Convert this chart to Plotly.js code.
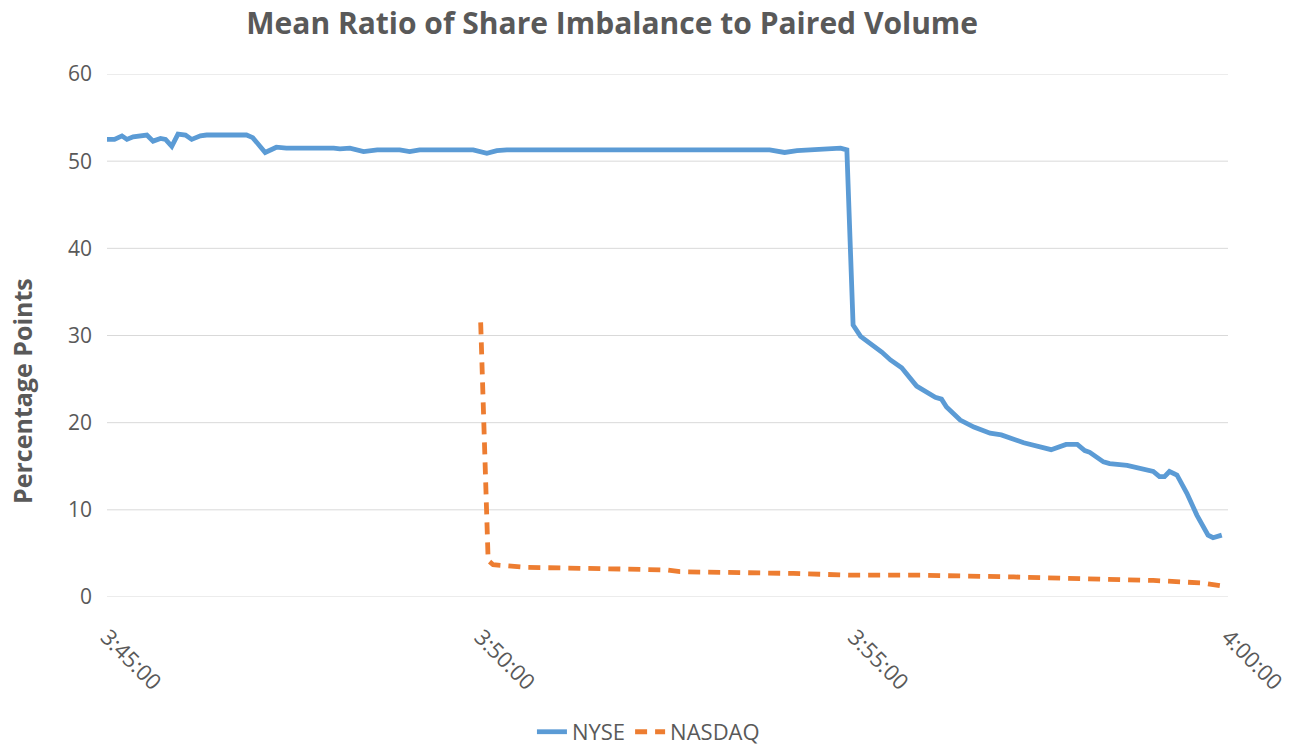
<!DOCTYPE html>
<html>
<head>
<meta charset="utf-8">
<script src="https://cdn.plot.ly/plotly-3.0.1.min.js"></script>
<style>html,body{margin:0;padding:0;background:#fff;}#chart{width:1308px;height:751px;}</style>
</head>
<body>
<div id="chart"></div>
<script>
const nyseTimes = ["15:45:00","15:45:06","15:45:12","15:45:16","15:45:21","15:45:29","15:45:32","15:45:37","15:45:43","15:45:47","15:45:52","15:45:57","15:46:03","15:46:08","15:46:15","15:46:20","15:46:52","15:46:57","15:47:07","15:47:16","15:47:24","15:48:02","15:48:07","15:48:15","15:48:26","15:48:37","15:48:55","15:49:03","15:49:11","15:49:54","15:50:05","15:50:13","15:50:21","15:53:52","15:54:04","15:54:14","15:54:27","15:54:49","15:54:54","15:54:59","15:55:05","15:55:13","15:55:22","15:55:29","15:55:38","15:55:50","15:55:57","15:56:05","15:56:10","15:56:14","15:56:25","15:56:36","15:56:49","15:56:58","15:57:16","15:57:26","15:57:38","15:57:50","15:57:59","15:58:05","15:58:09","15:58:20","15:58:25","15:58:39","15:58:49","15:59:00","15:59:05","15:59:09","15:59:13","15:59:19","15:59:27","15:59:35","15:59:44","15:59:48","15:59:55"];
const nyseValues = [52.5,52.5,52.9,52.5,52.8,53.0,53.0,52.3,52.6,52.5,51.7,53.1,53.0,52.5,52.9,53.0,53.0,52.7,51.0,51.6,51.5,51.5,51.4,51.5,51.1,51.3,51.3,51.1,51.3,51.3,50.9,51.2,51.3,51.3,51.0,51.2,51.3,51.5,51.3,31.2,29.9,29.1,28.1,27.2,26.3,24.2,23.6,22.9,22.7,21.8,20.3,19.5,18.8,18.6,17.7,17.4,16.9,17.5,17.5,16.8,16.6,15.5,15.3,15.1,14.8,14.4,13.8,13.8,14.4,14.0,11.9,9.4,7.1,6.8,7.1];
const nasdaqTimes = ["15:50:00","15:50:06","15:50:10","15:50:37","15:51:57","15:52:29","15:52:40","15:53:44","15:54:11","15:54:59","15:55:53","15:57:08","15:59:00","15:59:40","15:59:54"];
const nasdaqValues = [31.5,4.2,3.7,3.4,3.2,3.1,2.9,2.8,2.7,2.5,2.5,2.3,1.9,1.6,1.3];
const day = "2000-01-01 ";
const xRange = ["15:45:00","16:00:00"];
const tickTimes = ["15:45:00","15:50:00","15:55:00","16:00:00"];
const tickLabels = ["3:45:00","3:50:00","3:55:00","4:00:00"];
const yTicks = [0,10,20,30,40,50,60];

const gray = "#595959";
const fam = "'Open Sans', 'Noto Sans', sans-serif";
const traces = [
  {x: nyseTimes.map(t=>day+t), y: nyseValues, type:"scatter", mode:"lines", name:"NYSE",
   line:{color:"#5B9BD5", width:4.8}},
  {x: nasdaqTimes.map(t=>day+t), y: nasdaqValues, type:"scatter", mode:"lines", name:"NASDAQ",
   line:{color:"#ED7D31", width:4.8, dash:"12px,8px"}}
];
const shapes = yTicks.map(v => ({type:"line", xref:"paper", x0:0, x1:1, yref:"y", y0:v, y1:v,
  line:{color:"#d9d9d9", width:1}, layer:"below"}));
const layout = {
  width:1308, height:751,
  margin:{l:107, r:80, t:74, b:154, autoexpand:false},
  paper_bgcolor:"#fff", plot_bgcolor:"#fff",
  font:{family:fam, color:gray, size:21},
  title:{text:"<b>Mean Ratio of Share Imbalance to Paired Volume</b>", x:0.468, xanchor:"center", y:0.969, yanchor:"middle",
         font:{size:30, color:gray, family:fam}},
  xaxis:{type:"date", range:xRange.map(t=>day+t), tickvals:tickTimes.map(t=>day+t), ticktext:tickLabels,
         tickangle:45, showgrid:false, zeroline:false, showline:false, ticks:"", automargin:false,
         ticklabelstandoff:22, tickfont:{size:22, color:gray}},
  yaxis:{range:[0,60], tickvals:yTicks, showgrid:false,
         zeroline:false, showline:false, ticks:"", automargin:false, ticklabelstandoff:14,
         tickfont:{size:21, color:gray}},
  annotations:[{text:"<b>Percentage Points</b>", textangle:-90, xref:"paper", yref:"paper",
         x:(22-107)/1121, y:(597-391)/523, xanchor:"center", yanchor:"middle", showarrow:false,
         font:{size:25, color:gray}}],
  shapes: shapes,
  showlegend:true,
  legend:{orientation:"h", x:0.483, xanchor:"center", y:-0.258, yanchor:"middle",
          font:{size:22, color:gray}},
};
Plotly.newPlot("chart", traces, layout, {displayModeBar:false, staticPlot:true});
</script>
</body>
</html>
